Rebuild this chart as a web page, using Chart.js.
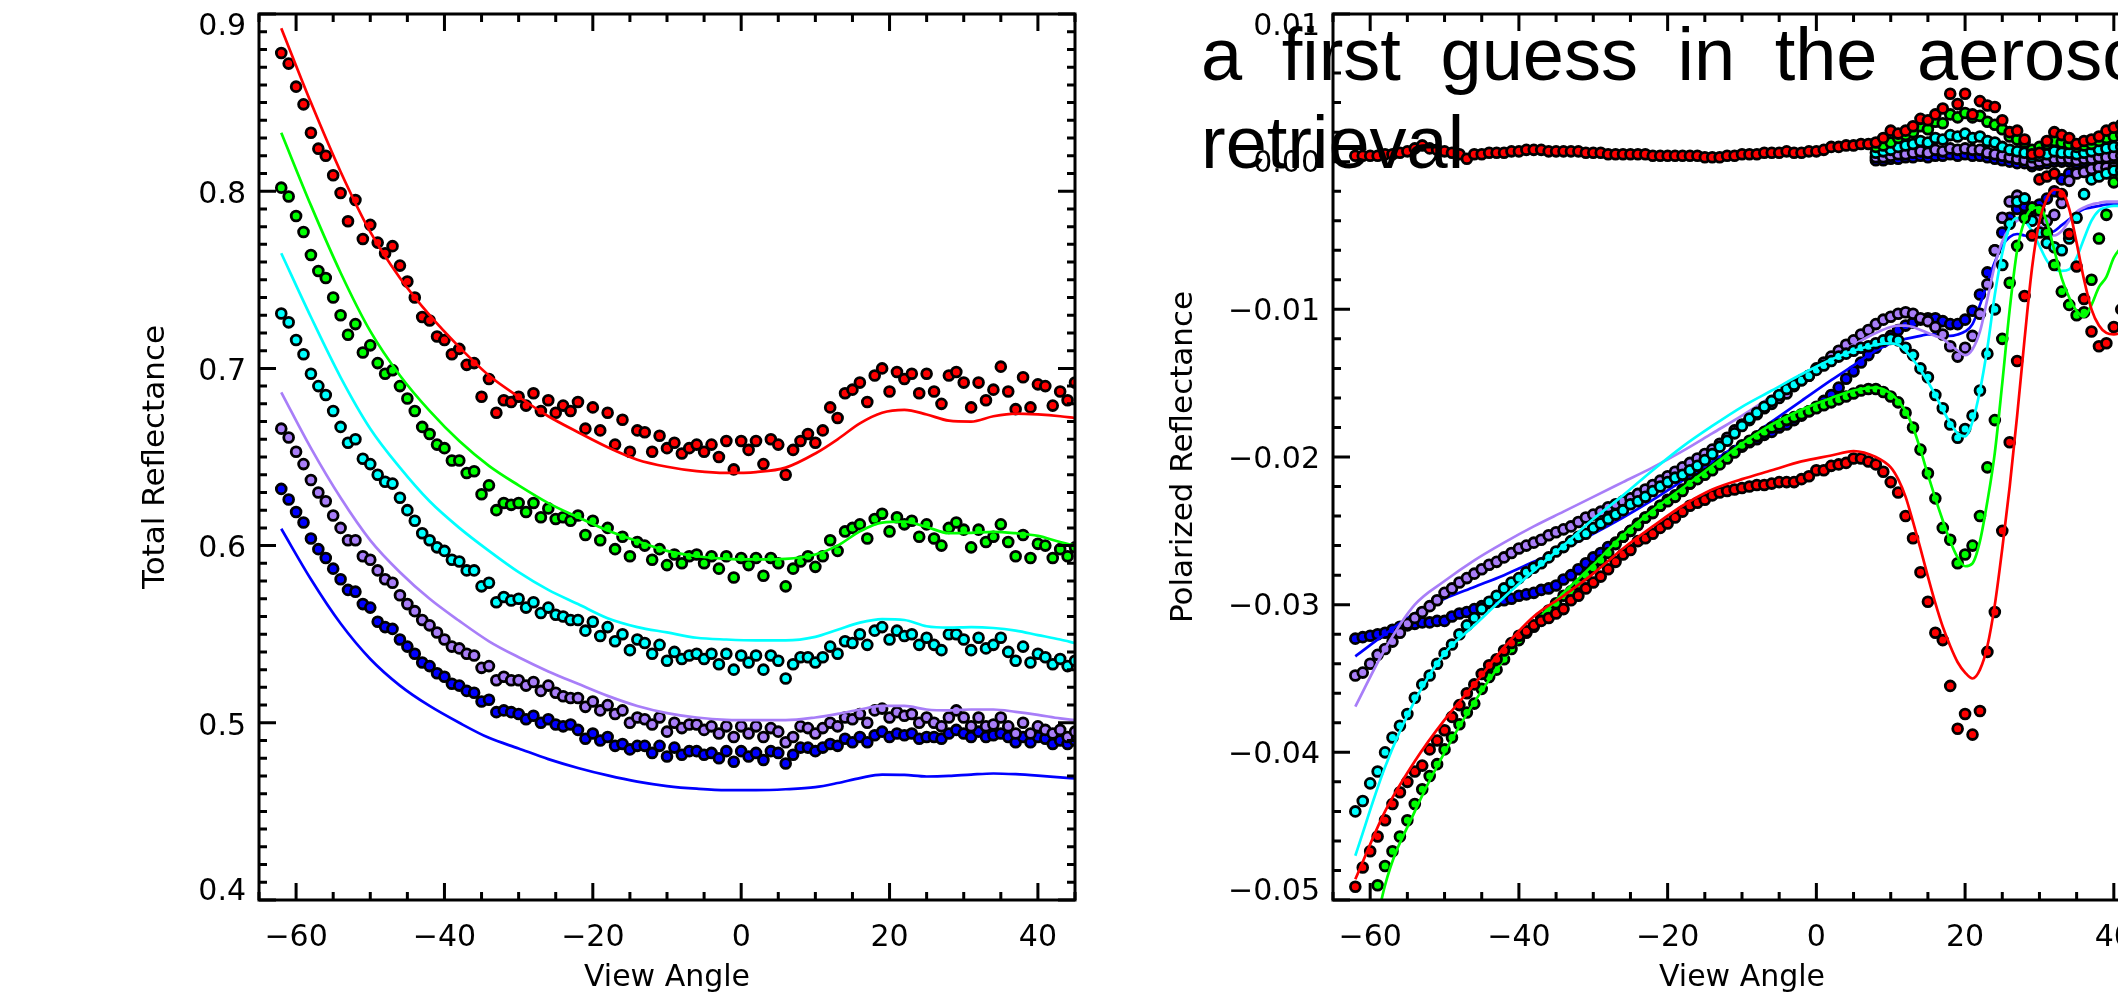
<!DOCTYPE html>
<html>
<head>
<meta charset="utf-8">
<script src="https://cdn.jsdelivr.net/npm/chart.js@4.4.1/dist/chart.umd.min.js"></script>
<style>
html, body { margin: 0; padding: 0; background: #fff; overflow: hidden; width: 2118px; height: 1002px; }
#c1 { position: absolute; left: 0; top: 0; }
#c2 { position: absolute; left: 1100px; top: 0; }
#note { position: absolute; left: 1201px; top: 11px; z-index: 5; color: #000;
  font-family: "Liberation Sans", Arial, sans-serif; font-size: 74px; line-height: 88px;
  word-spacing: 19px; white-space: nowrap; }
</style>
</head>
<body>
<canvas id="c1" width="1100" height="1002"></canvas>
<canvas id="c2" width="1100" height="1002"></canvas>
<div id="note">a first guess in the aerosol<br>retrieval</div>
<script>
// view angles of the measurements (left panel)
const anglesT = [-62,-61,-60,-59,-58,-57,-56,-55,-54,-53,-52,-51,-50,-49,-48,-47,-46,-45,-44,-43,
  -42,-41,-40,-39,-38,-37,-36,-35,-34,-33,-32,-31,-30,-29,-28,-27,-26,-25,-24,-23,
  -22,-21,-20,-19,-18,-17,-16,-15,-14,-13,-12,-11,-10,-9,-8,-7,-6,-5,-4,-3,
  -2,-1,0,1,2,3,4,5,6,7,8,9,10,11,12,13,14,15,16,17,
  18,19,20,21,22,23,24,25,26,27,28,29,30,31,32,33,34,35,36,37,
  38,39,40,41,42,43,44,45];

// total reflectance, measured
const redTotal = [.878,.872,.859,.849,.833,.824,.820,.809,.799,.783,
  .795,.773,.781,.771,.765,.769,.758,.749,.740,.729,
  .727,.718,.716,.708,.711,.702,.703,.684,.694,.675,
  .682,.681,.684,.679,.686,.676,.682,.675,.679,.676,
  .681,.666,.678,.665,.675,.657,.671,.653,.665,.664,
  .653,.662,.655,.658,.652,.655,.657,.653,.657,.650,
  .659,.643,.659,.654,.659,.646,.660,.657,.640,.654,
  .659,.663,.658,.665,.678,.672,.686,.688,.692,.681,
  .696,.700,.687,.698,.694,.697,.686,.697,.687,.680,
  .696,.698,.692,.678,.692,.682,.688,.701,.687,.677,
  .695,.678,.691,.690,.679,.687,.682,.692];
const greenTotal = [.802,.797,.786,.777,.764,.755,.751,.740,.730,.719,
  .725,.709,.713,.703,.697,.699,.690,.683,.676,.667,
  .663,.657,.655,.648,.648,.641,.642,.629,.634,.620,
  .624,.623,.624,.619,.624,.616,.621,.615,.616,.614,
  .617,.606,.614,.603,.610,.598,.605,.594,.602,.600,
  .592,.598,.589,.595,.590,.594,.595,.590,.594,.587,
  .594,.582,.593,.589,.593,.583,.593,.590,.577,.587,
  .591,.594,.588,.594,.603,.597,.608,.610,.612,.604,
  .615,.618,.608,.616,.612,.614,.605,.612,.604,.600,
  .610,.613,.609,.599,.609,.602,.605,.612,.602,.594,
  .606,.593,.601,.600,.593,.598,.594,.599];
const cyanTotal = [.731,.726,.716,.708,.697,.690,.685,.676,.667,.658,
  .660,.649,.646,.640,.636,.635,.627,.620,.614,.607,
  .603,.599,.597,.592,.591,.586,.586,.577,.579,.568,
  .571,.569,.570,.565,.568,.562,.565,.561,.560,.558,
  .558,.552,.557,.549,.554,.546,.550,.541,.547,.545,
  .539,.544,.535,.540,.536,.538,.539,.536,.539,.533,
  .539,.530,.538,.534,.538,.530,.538,.535,.525,.533,
  .537,.537,.534,.537,.543,.539,.546,.545,.550,.544,
  .552,.554,.547,.552,.549,.550,.544,.548,.544,.541,
  .550,.550,.547,.541,.548,.542,.544,.548,.540,.535,
  .543,.534,.539,.537,.533,.536,.532,.535];
const purpleTotal = [.666,.661,.653,.646,.637,.630,.625,.617,.610,.603,
  .603,.594,.592,.586,.581,.579,.572,.567,.563,.558,
  .555,.551,.547,.543,.542,.539,.538,.531,.532,.524,
  .526,.524,.524,.521,.523,.518,.521,.517,.515,.514,
  .514,.509,.512,.507,.510,.505,.507,.500,.503,.502,
  .499,.503,.495,.500,.497,.499,.499,.496,.498,.494,
  .498,.492,.498,.494,.498,.492,.497,.495,.489,.492,
  .498,.497,.494,.497,.500,.498,.503,.502,.505,.500,
  .507,.508,.503,.506,.504,.505,.500,.503,.500,.498,
  .503,.507,.503,.498,.503,.498,.499,.503,.498,.494,
  .500,.494,.498,.496,.494,.496,.492,.495];
const blueTotal = [.632,.626,.619,.613,.604,.598,.593,.587,.581,.575,
  .574,.567,.565,.557,.554,.553,.547,.543,.539,.534,
  .532,.528,.526,.522,.521,.518,.517,.512,.513,.506,
  .507,.506,.505,.502,.504,.500,.502,.499,.498,.499,
  .496,.491,.494,.490,.492,.487,.488,.485,.487,.487,
  .483,.487,.481,.486,.482,.484,.484,.482,.483,.480,
  .484,.478,.484,.481,.483,.479,.484,.483,.477,.482,
  .486,.486,.484,.486,.488,.487,.491,.489,.492,.489,
  .493,.495,.492,.494,.493,.494,.491,.492,.492,.491,
  .494,.496,.494,.492,.495,.492,.493,.494,.492,.489,
  .492,.489,.492,.491,.488,.490,.488,.490];

// total reflectance, model curves
const fitAnglesT = [-62,-58,-54,-50,-46,-42,-38,-34,-30,-26,-22,-18,-14,-10,-6,-2,2,6,10,13,16,19,22,25,28,31,34,37,40,43,45];
const redTotalFit = [.892,.850,.811,.777,.751,.730,.712,.696,.684,.673,.664,.6555,.6485,.6445,.642,.641,.6415,.644,.652,.660,.669,.675,.6766,.674,.6705,.670,.673,.6745,.674,.673,.672];
const greenTotalFit = [.833,.792,.754,.721,.696,.676,.659,.645,.634,.624,.616,.6085,.6025,.597,.594,.5925,.5922,.5925,.595,.600,.608,.613,.6135,.6105,.607,.6072,.6078,.607,.6055,.602,.600];
const cyanTotalFit = [.765,.729,.695,.666,.644,.625,.610,.597,.585,.575,.567,.559,.554,.551,.548,.547,.5465,.5465,.5485,.5525,.5565,.5585,.558,.5545,.5537,.554,.5535,.552,.5495,.547,.545];
const purpleTotalFit = [.6865,.655,.627,.603,.585,.570,.5575,.546,.537,.529,.522,.5152,.5095,.5055,.503,.5017,.5015,.5015,.503,.505,.5075,.5095,.5095,.5075,.507,.5075,.5075,.5062,.5045,.5025,.5015];
const blueTotalFit = [.6095,.581,.556,.536,.521,.5095,.500,.4915,.4855,.4795,.4745,.4703,.4668,.4643,.4628,.462,.462,.4625,.4637,.466,.4688,.4708,.4706,.4697,.470,.4708,.4714,.471,.4702,.4692,.4686];

// polarized reflectance (right panel)
const anglesP = [-62,-61,-60,-59,-58,-57,-56,-55,-54,-53,-52,-51,-50,-49,-48,-47,-46,-45,-44,-43,
  -42,-41,-40,-39,-38,-37,-36,-35,-34,-33,-32,-31,-30,-29,-28,-27,-26,-25,-24,-23,
  -22,-21,-20,-19,-18,-17,-16,-15,-14,-13,-12,-11,-10,-9,-8,-7,-6,-5,-4,-3,
  -2,-1,0,1,2,3,4,5,6,7,8,9,10,11,12,13,14,15,16,17,
  18,19,20,21,22,23,24,25,26,27,28,29,30,31,32,33,34,35,36,37,
  38,39,40,41];
const redPol = [-.0491,-.0478,-.0467,-.0457,-.0446,-.0435,-.0427,-.0420,-.0413,-.0409,
  -.0398,-.0392,-.0385,-.0376,-.0368,-.0360,-.0354,-.0347,-.0341,-.0337,
  -.0331,-.0326,-.0321,-.0318,-.0314,-.0311,-.0309,-.0306,-.0303,-.0297,
  -.0294,-.0289,-.0285,-.0281,-.0276,-.0271,-.0266,-.0263,-.0257,-.0255,
  -.0252,-.0248,-.0245,-.0241,-.0237,-.0233,-.0231,-.0229,-.0226,-.0224,
  -.0223,-.0222,-.0221,-.0220,-.0219,-.0219,-.0218,-.0217,-.0217,-.0217,
  -.0215,-.0213,-.0209,-.0209,-.0206,-.0205,-.0204,-.0201,-.0201,-.0203,
  -.0205,-.0210,-.0217,-.0224,-.0240,-.0255,-.0278,-.0298,-.0319,-.0324,
  -.0355,-.0384,-.0374,-.0388,-.0372,-.0332,-.0305,-.0250,-.0190,-.0135,
  -.0091,-.0050,-.0012,-.0010,-.0008,-.0022,-.0049,-.0071,-.0093,-.0115,
  -.0125,-.0123,-.0112,-.0100];
const greenPol = [-.0540,-.0525,-.0505,-.0490,-.0477,-.0467,-.0457,-.0446,-.0435,-.0425,
  -.0416,-.0408,-.0398,-.0390,-.0381,-.0373,-.0367,-.0357,-.0349,-.0344,
  -.0337,-.0330,-.0324,-.0319,-.0315,-.0309,-.0304,-.0299,-.0294,-.0291,
  -.0286,-.0280,-.0275,-.0270,-.0265,-.0259,-.0254,-.0250,-.0246,-.0241,
  -.0238,-.0233,-.0230,-.0227,-.0223,-.0218,-.0215,-.0212,-.0209,-.0205,
  -.0201,-.0197,-.0192,-.0189,-.0186,-.0183,-.0180,-.0178,-.0175,-.0173,
  -.0171,-.0169,-.0167,-.0165,-.0163,-.0161,-.0159,-.0157,-.0155,-.0154,
  -.0154,-.0156,-.0159,-.0163,-.0170,-.0180,-.0195,-.0211,-.0228,-.0248,
  -.0256,-.0272,-.0266,-.0260,-.0240,-.0207,-.0175,-.0120,-.0082,-.0057,
  -.0038,-.0031,-.0033,-.0048,-.0070,-.0088,-.0097,-.0104,-.0102,-.0080,
  -.0052,-.0036,-.0014,-.0010];
const cyanPol = [-.0440,-.0433,-.0421,-.0413,-.0400,-.0390,-.0382,-.0374,-.0363,-.0354,
  -.0348,-.0340,-.0333,-.0327,-.0320,-.0314,-.0309,-.0303,-.0298,-.0294,
  -.0289,-.0285,-.0282,-.0278,-.0275,-.0272,-.0268,-.0264,-.0261,-.0257,
  -.0254,-.0252,-.0248,-.0245,-.0242,-.0239,-.0236,-.0232,-.0230,-.0227,
  -.0223,-.0220,-.0217,-.0214,-.0212,-.0209,-.0206,-.0202,-.0198,-.0193,
  -.0189,-.0184,-.0179,-.0174,-.0170,-.0166,-.0162,-.0158,-.0154,-.0151,
  -.0148,-.0145,-.0141,-.0138,-.0135,-.0132,-.0130,-.0128,-.0126,-.0125,
  -.0123,-.0121,-.0120,-.0121,-.0126,-.0131,-.0140,-.0146,-.0158,-.0167,
  -.0178,-.0187,-.0181,-.0172,-.0155,-.0130,-.0100,-.0070,-.0042,-.0027,
  -.0025,-.0040,-.0048,-.0055,-.0058,-.0060,-.0052,-.0038,-.0022,-.0012,
  -.0010,-.0008,-.0006,-.0006];
const purplePol = [-.0348,-.0346,-.0340,-.0334,-.0330,-.0325,-.0319,-.0313,-.0309,-.0305,
  -.0301,-.0297,-.0292,-.0289,-.0285,-.0282,-.0279,-.0276,-.0273,-.0271,
  -.0268,-.0265,-.0262,-.0260,-.0258,-.0256,-.0253,-.0251,-.0249,-.0247,
  -.0244,-.0241,-.0239,-.0237,-.0234,-.0232,-.0230,-.0228,-.0225,-.0222,
  -.0219,-.0216,-.0213,-.0210,-.0207,-.0204,-.0201,-.0198,-.0195,-.0191,
  -.0187,-.0182,-.0178,-.0175,-.0171,-.0167,-.0164,-.0160,-.0157,-.0152,
  -.0148,-.0145,-.0140,-.0136,-.0132,-.0128,-.0124,-.0121,-.0117,-.0114,
  -.0110,-.0107,-.0105,-.0103,-.0102,-.0103,-.0106,-.0108,-.0112,-.0117,
  -.0125,-.0132,-.0126,-.0118,-.0103,-.0083,-.0060,-.0038,-.0027,-.0023,
  -.0025,-.0031,-.0038,-.0040,-.0036,-.0028,-.0013,-.0008,-.0007,-.0005,
  -.0004,-.0004,-.0004,-.0004];
const bluePol = [-.0323,-.0322,-.0321,-.0320,-.0319,-.0317,-.0315,-.0314,-.0313,-.0312,
  -.0312,-.0311,-.0311,-.0308,-.0306,-.0305,-.0303,-.0301,-.0299,-.0298,
  -.0297,-.0296,-.0294,-.0293,-.0292,-.0290,-.0289,-.0287,-.0283,-.0280,
  -.0276,-.0272,-.0268,-.0265,-.0261,-.0258,-.0254,-.0250,-.0245,-.0241,
  -.0237,-.0233,-.0229,-.0226,-.0222,-.0218,-.0214,-.0211,-.0207,-.0203,
  -.0200,-.0196,-.0193,-.0190,-.0188,-.0185,-.0183,-.0180,-.0178,-.0175,
  -.0172,-.0169,-.0166,-.0162,-.0158,-.0153,-.0147,-.0142,-.0136,-.0131,
  -.0126,-.0122,-.0118,-.0114,-.0111,-.0109,-.0107,-.0106,-.0106,-.0108,
  -.0110,-.0110,-.0107,-.0101,-.0090,-.0075,-.0060,-.0048,-.0038,-.0032,
  -.0030,-.0032,-.0029,-.0025,-.0020,-.0012,-.0008,-.0006,-.0006,-.0007,
  -.0007,-.0006,-.0005,-.0005];

// the near-zero row of the polarized panel
const redPolZero = [.0004,.0004,.0004,.0004,.0005,.0005,.0006,.0007,.0009,.0011,
  .0009,.0008,.0007,.0006,.0005,.0002,.0005,.0005,.0006,.0006,
  .0006,.0007,.0007,.0008,.0008,.0008,.0007,.0007,.0007,.0007,
  .0007,.0006,.0006,.0006,.0005,.0005,.0005,.0005,.0005,.0005,
  .0004,.0004,.0004,.0004,.0004,.0004,.0004,.0003,.0003,.0003,
  .0004,.0004,.0005,.0005,.0005,.0006,.0006,.0006,.0007,.0006,
  .0006,.0007,.0007,.0008,.0010,.0010,.0011,.0011,.0012,.0012,
  .0013,.0016,.0021,.0019,.0021,.0024,.0029,.0028,.0032,.0036,
  .0046,.0039,.0046,.0032,.0041,.0038,.0037,.0028,.0020,.0021,
  .0015,.0005,.0006,.0014,.0020,.0018,.0016,.0012,.0014,.0015,
  .0017,.0021,.0023,.0025];
const anglesZero = [8,9,10,11,12,13,14,15,16,17,18,19,20,21,22,23,24,25,26,27,28,29,30,31,32,33,34,35,36,37,38,39,40,41];
const greenPolZero = [.0010,.0011,.0013,.0016,.0018,.0020,.0024,.0022,.0027,.0026,.0032,.0030,.0033,.0030,.0031,.0027,.0025,
  .0022,.0017,.0015,.0013,.0008,.0010,.0012,.0014,.0013,.0012,.0010,.0011,.0012,.0014,.0016,.0017,.0018];
const cyanPolZero = [.0006,.0007,.0008,.0010,.0011,.0012,.0014,.0013,.0016,.0015,.0018,.0017,.0019,.0016,.0017,.0014,.0013,
  .0010,.0008,.0007,.0006,.0003,.0004,.0005,.0007,.0006,.0006,.0005,.0006,.0007,.0008,.0009,.0010,.0010];
const purplePolZero = [.0003,.0003,.0004,.0005,.0005,.0006,.0007,.0006,.0008,.0007,.0009,.0008,.0009,.0008,.0008,.0006,.0005,
  .0004,.0003,.0002,.0001,-.0001,.0000,.0001,.0002,.0002,.0002,.0001,.0002,.0002,.0003,.0003,.0004,.0004];
const bluePolZero = [.0001,.0001,.0002,.0002,.0003,.0003,.0004,.0003,.0004,.0004,.0005,.0004,.0005,.0004,.0004,.0003,.0002,
  .0001,.0000,-.0001,-.0001,-.0003,-.0002,-.0001,.0000,.0000,.0000,-.0001,.0000,.0000,.0001,.0001,.0001,.0002];

// polarized reflectance, model curves
const fitAnglesP = [-62,-58,-54,-50,-46,-42,-38,-34,-30,-26,-22,-18,-14,-10,-6,-2,2,5,8,
  10,11,12,13,14,15,16,17,18,19,20,21,22,23,24,25,26,27,28,29,30,31,32,33,34,35,36,37,38,39,40,41];
const redPolFit = [-.0486,-.0440,-.0406,-.0378,-.0354,-.0329,-.0308,-.0294,-.0279,-.0262,-.0247,-.0233,-.0222,-.0215,-.0209,-.0203,-.0199,-.0196,-.0200,
  -.0207,-.0215,-.0227,-.0244,-.0262,-.0281,-.0299,-.0315,-.0328,-.0339,-.0346,-.0350,-.0344,-.0328,-.0300,-.0262,-.0220,-.0172,-.0120,-.0072,-.0040,-.0025,-.0019,-.0020,-.0032,-.0055,-.0080,-.0100,-.0111,-.0116,-.0117,-.0116];
const greenPolFit = [-.0590,-.0490,-.0440,-.0400,-.0366,-.0337,-.0313,-.0292,-.0273,-.0253,-.0236,-.0221,-.0206,-.0191,-.0178,-.0168,-.0160,-.0155,-.0153,
  -.0157,-.0162,-.0169,-.0180,-.0195,-.0212,-.0228,-.0243,-.0257,-.0268,-.0274,-.0272,-.0257,-.0230,-.0197,-.0150,-.0100,-.0060,-.0040,-.0032,-.0031,-.0041,-.0060,-.0079,-.0092,-.0101,-.0105,-.0097,-.0085,-.0078,-.0065,-.0058];
const cyanPolFit = [-.0470,-.0410,-.0365,-.0333,-.0314,-.0295,-.0277,-.0260,-.0242,-.0226,-.0209,-.0193,-.0179,-.0166,-.0155,-.0144,-.0134,-.0128,-.0124,
  -.0123,-.0124,-.0128,-.0134,-.0141,-.0149,-.0158,-.0168,-.0177,-.0184,-.0186,-.0176,-.0155,-.0126,-.0090,-.0062,-.0044,-.0038,-.0040,-.0047,-.0057,-.0067,-.0073,-.0074,-.0073,-.0065,-.0052,-.0040,-.0033,-.0031,-.0030,-.0030];
const purplePolFit = [-.0369,-.0330,-.0300,-.0284,-.0270,-.0258,-.0247,-.0237,-.0227,-.0217,-.0207,-.0196,-.0184,-.0172,-.0159,-.0146,-.0133,-.0124,-.0116,
  -.0112,-.0111,-.0111,-.0112,-.0114,-.0116,-.0118,-.0120,-.0124,-.0128,-.0131,-.0127,-.0115,-.0093,-.0070,-.0054,-.0045,-.0040,-.0038,-.0039,-.0043,-.0047,-.0050,-.0047,-.0040,-.0034,-.0031,-.0029,-.0028,-.0027,-.0027,-.0027];
const bluePolFit = [-.0335,-.0320,-.0306,-.0296,-.0288,-.0280,-.0271,-.0262,-.0252,-.0241,-.0229,-.0216,-.0203,-.0190,-.0176,-.0162,-.0148,-.0138,-.0128,
  -.0123,-.0121,-.0120,-.0119,-.0118,-.0117,-.0117,-.0118,-.0118,-.0117,-.0115,-.0110,-.0097,-.0082,-.0068,-.0057,-.0051,-.0049,-.0050,-.0051,-.0050,-.0049,-.0047,-.0043,-.0039,-.0035,-.0032,-.0031,-.0030,-.0029,-.0029,-.0029];

// axis ticks
const xTicks = [-60, -40, -20, 0, 20, 40];
const yTicksTotal = [0.4, 0.5, 0.6, 0.7, 0.8, 0.9];
const yTicksPol = [-0.05, -0.04, -0.03, -0.02, -0.01, 0.00, 0.01];

const RED = '#ff0000', GREEN = '#00ff00', CYAN = '#00ffff', PURPLE = '#a87ef8', BLUE = '#0000ff';

Chart.defaults.font.family = '"DejaVu Sans", sans-serif';
Chart.defaults.color = '#000';

function pairs(xs, ys) { return xs.map((x, i) => ({x: x, y: ys[i]})); }
function dots(xs, ys, col) {
  return {data: pairs(xs, ys), showLine: false, pointRadius: 4.9, pointBorderWidth: 2.8,
    pointBorderColor: '#000', pointBackgroundColor: col};
}
function curve(xs, ys, col) {
  return {data: pairs(xs, ys), showLine: true, borderColor: col, borderWidth: 2.7,
    pointRadius: 0, cubicInterpolationMode: 'monotone', fill: false};
}
const minus = s => s.replace('-', '\u2212');

// box, inward ticks on all four sides and the y labels (IDL style)
const frame = {
  id: 'frame',
  afterDraw(chart, args, o) {
    const {ctx, chartArea: a} = chart;
    const x = chart.scales.x, y = chart.scales.y;
    ctx.save();
    ctx.strokeStyle = '#000';
    ctx.lineWidth = 3;
    ctx.strokeRect(a.left, a.top, a.right - a.left, a.bottom - a.top);
    ctx.beginPath();
    const nx = Math.round((x.max - x.min) / 5);
    for (let i = 0; i <= nx; i++) {
      const v = x.min + i * 5;
      const px = x.getPixelForValue(v);
      const len = xTicks.includes(v) ? 17 : 8;
      ctx.moveTo(px, a.bottom); ctx.lineTo(px, a.bottom - len);
      ctx.moveTo(px, a.top); ctx.lineTo(px, a.top + len);
    }
    const ny = Math.round((y.max - y.min) / o.minor);
    for (let i = 0; i <= ny; i++) {
      const v = y.min + i * o.minor;
      const py = y.getPixelForValue(v);
      const major = o.ticks.some(t => Math.abs(t - v) < o.minor / 10);
      const len = major ? 17 : 8;
      ctx.moveTo(a.left, py); ctx.lineTo(a.left + len, py);
      ctx.moveTo(a.right, py); ctx.lineTo(a.right - len, py);
    }
    ctx.stroke();
    ctx.fillStyle = '#000';
    ctx.font = '30px "DejaVu Sans"';
    ctx.textAlign = 'right';
    ctx.textBaseline = 'middle';
    o.ticks.forEach(v => {
      let py = y.getPixelForValue(v) + o.dy;
      py = Math.min(Math.max(py, a.top + 13), a.bottom - 8);
      ctx.fillText(minus(v.toFixed(o.digits)), a.left - 13, py);
    });
    ctx.restore();
  }
};

function xScale() {
  return {
    type: 'linear', min: -65, max: 45,
    afterBuildTicks: s => { s.ticks = xTicks.map(v => ({value: v})); },
    afterFit: s => { s.height = 102; },
    grid: {display: false, drawTicks: false},
    border: {display: false},
    ticks: {autoSkip: false, maxRotation: 0, padding: 20, color: '#000', font: {size: 30},
      callback: v => minus(String(v))},
    title: {display: true, text: 'View Angle', color: '#000', font: {size: 30}, padding: {top: 0, bottom: 6}}
  };
}

new Chart(document.getElementById('c1'), {
  type: 'scatter',
  data: {datasets: [
    curve(fitAnglesT, redTotalFit, RED), dots(anglesT, redTotal, RED),
    curve(fitAnglesT, greenTotalFit, GREEN), dots(anglesT, greenTotal, GREEN),
    curve(fitAnglesT, cyanTotalFit, CYAN), dots(anglesT, cyanTotal, CYAN),
    curve(fitAnglesT, purpleTotalFit, PURPLE), dots(anglesT, purpleTotal, PURPLE),
    curve(fitAnglesT, blueTotalFit, BLUE), dots(anglesT, blueTotal, BLUE)
  ]},
  options: {
    responsive: false, animation: false, devicePixelRatio: 1,
    layout: {padding: {top: 14, right: 25, bottom: 0, left: 0}},
    plugins: {legend: {display: false}, tooltip: {enabled: false},
      frame: {ticks: yTicksTotal, minor: 0.01, digits: 1, dy: 4}},
    scales: {
      x: xScale(),
      y: {
        type: 'linear', min: 0.4, max: 0.9,
        afterFit: s => { s.width = 259; },
        grid: {display: false, drawTicks: false}, border: {display: false},
        ticks: {display: false},
        title: {display: true, text: 'Total Reflectance', color: '#000', font: {size: 31}, padding: {top: 137, bottom: 0}}
      }
    }
  },
  plugins: [frame]
});

new Chart(document.getElementById('c2'), {
  type: 'scatter',
  data: {datasets: [
    dots(anglesP, redPolZero, RED),
    curve(fitAnglesP, redPolFit, RED), dots(anglesP, redPol, RED),
    dots(anglesZero, greenPolZero, GREEN),
    curve(fitAnglesP, greenPolFit, GREEN), dots(anglesP, greenPol, GREEN),
    dots(anglesZero, cyanPolZero, CYAN),
    curve(fitAnglesP, cyanPolFit, CYAN), dots(anglesP, cyanPol, CYAN),
    dots(anglesZero, purplePolZero, PURPLE),
    curve(fitAnglesP, purplePolFit, PURPLE), dots(anglesP, purplePol, PURPLE),
    dots(anglesZero, bluePolZero, BLUE),
    curve(fitAnglesP, bluePolFit, BLUE), dots(anglesP, bluePol, BLUE)
  ]},
  options: {
    responsive: false, animation: false, devicePixelRatio: 1,
    layout: {padding: {top: 14, right: 49, bottom: 0, left: 0}},
    plugins: {legend: {display: false}, tooltip: {enabled: false},
      frame: {ticks: yTicksPol, minor: 0.002, digits: 2, dy: 3}},
    scales: {
      x: xScale(),
      y: {
        type: 'linear', min: -0.05, max: 0.01,
        afterFit: s => { s.width = 233; },
        grid: {display: false, drawTicks: false}, border: {display: false},
        ticks: {display: false},
        title: {display: true, text: 'Polarized Reflectance', color: '#000', font: {size: 31}, padding: {top: 65, bottom: 0}}
      }
    }
  },
  plugins: [frame]
});
</script>
</body>
</html>
